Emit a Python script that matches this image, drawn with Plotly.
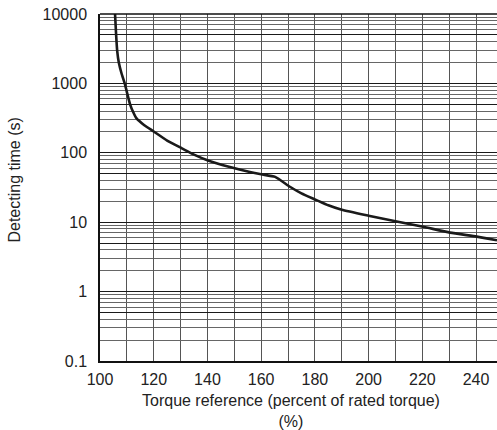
import plotly.graph_objects as go

# Data
torque_pct = [105.6, 106.0, 106.4, 107.0, 108.0, 109.3, 110.2, 111.2, 112.3, 113.6, 116.5,
              120.0, 125.0, 130.5, 135.0, 140.2, 148.0, 155.8, 160.0, 165.2, 170.7,
              175.0, 180.4, 185.0, 190.0, 200.0, 210.0, 220.3, 230.3, 240.3, 247.8]
detect_time = [10000, 5000, 2950, 2000, 1400, 970, 700, 500, 390, 313, 250,
               203, 150, 116, 94, 77.6, 63, 53, 49, 45, 32.4,
               26, 21, 17.5, 15.1, 12.4, 10.3, 8.6, 7.07, 6.2, 5.5]

x_ticks = [100, 120, 140, 160, 180, 200, 220, 240]
y_ticks = [0.1, 0.5, 1, 5, 10, 50, 100, 500, 1000, 5000, 10000]
y_tick_labels = ["0.1", "", "1", "", "10", "", "100", "", "1000", "", "10000"]

FONT = "Liberation Sans, Arial, Helvetica, sans-serif"

fig = go.Figure()
fig.add_trace(go.Scatter(x=torque_pct, y=detect_time, mode="lines",
                         line=dict(color="#1a1a1a", width=2.6, shape="spline", smoothing=0.5),
                         showlegend=False, hoverinfo="skip", cliponaxis=True))

fig.update_layout(
    width=497, height=430,
    margin=dict(l=100, r=0, t=14, b=69),
    paper_bgcolor="white", plot_bgcolor="white",
    font=dict(family=FONT, color="#222", size=16),
    showlegend=False,
)
fig.update_xaxes(
    range=[100, 247.8],
    tickvals=x_ticks, ticktext=[str(v) for v in x_ticks],
    showgrid=True, gridcolor="#555", gridwidth=1.3,
    minor=dict(dtick=10, tick0=100, showgrid=True, gridcolor="#555", gridwidth=1.3),
    showline=True, linecolor="#111", linewidth=1.5,
    ticks="", ticklabelstandoff=3, ticklabeloverflow="allow",
    zeroline=False,
    tickfont=dict(size=16),
)
fig.update_yaxes(
    type="log", range=[-1, 4],
    tickvals=y_ticks, ticktext=y_tick_labels,
    showgrid=True, gridcolor="#1a1a1a", gridwidth=1.3,
    minor=dict(dtick="D1", showgrid=True, gridcolor="#666", gridwidth=1.3),
    showline=True, linecolor="#111", linewidth=1.5,
    ticks="", ticklabelstandoff=8, ticklabeloverflow="allow",
    zeroline=False,
    tickfont=dict(size=16),
)
fig.add_shape(type="line", xref="paper", yref="paper", x0=0, x1=1, y0=1, y1=1,
              line=dict(color="#111", width=1.5))

fig.add_annotation(text="Torque reference (percent of rated torque)<br>(%)",
                   xref="paper", yref="paper", x=(291 - 100) / 397, y=0,
                   yshift=-29, yanchor="top", xanchor="center", showarrow=False,
                   font=dict(size=16, family=FONT, color="#222"))
fig.add_annotation(text="Detecting time (s)", xref="paper", yref="paper",
                   x=0, xshift=-85, y=0.52, textangle=-90, showarrow=False,
                   xanchor="center", yanchor="middle",
                   font=dict(size=16, family=FONT, color="#222"))

fig.write_html("out.html", config={"displayModeBar": False},
               post_script="document.body.style.margin='0';")
